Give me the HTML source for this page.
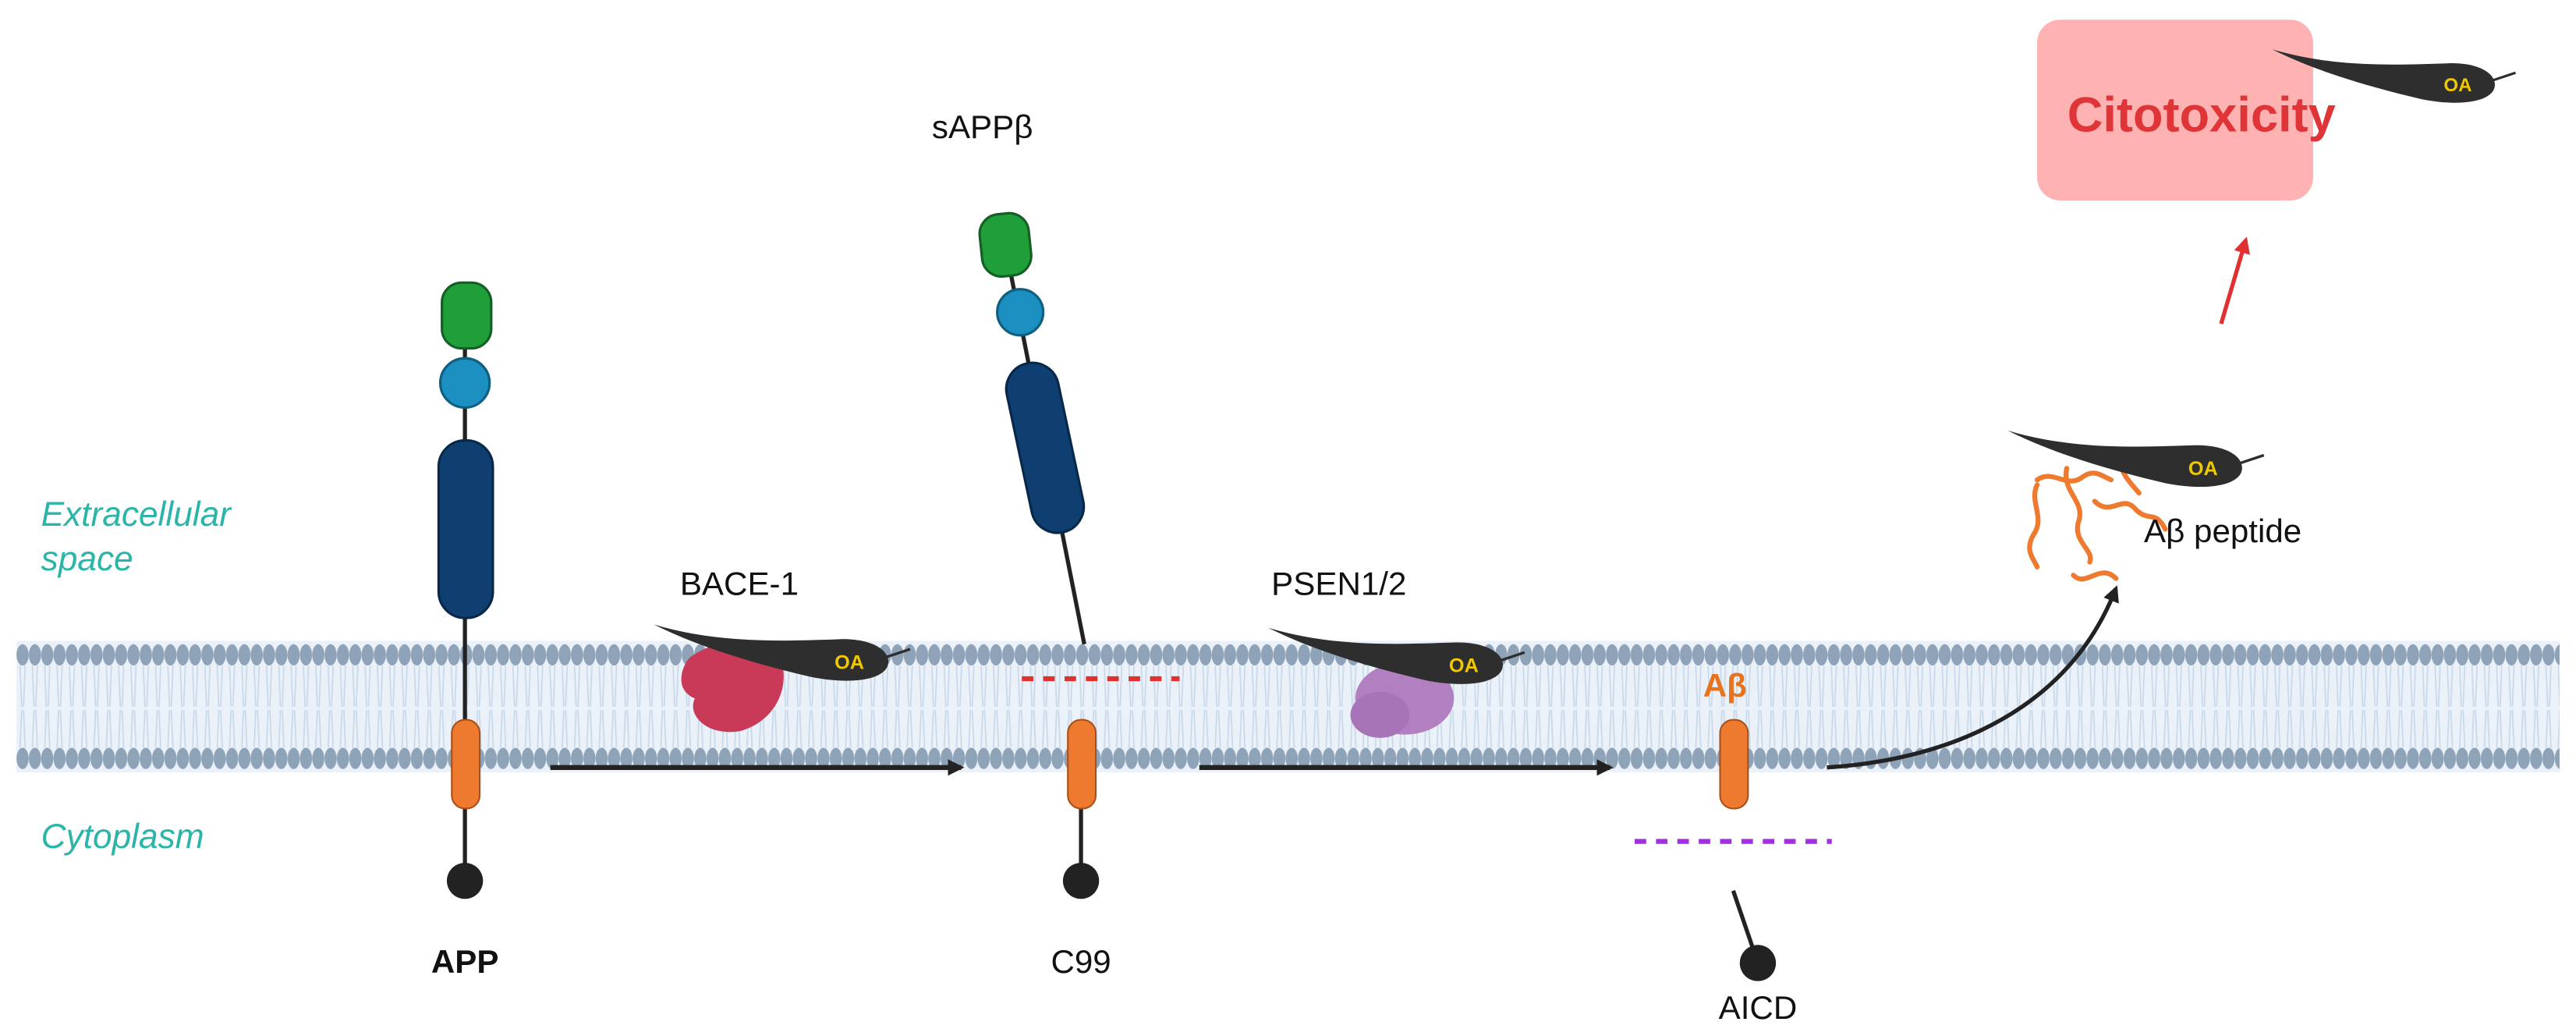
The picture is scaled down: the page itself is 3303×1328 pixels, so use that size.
<!DOCTYPE html>
<html><head><meta charset="utf-8"><style>
html,body{margin:0;padding:0;background:#fff}
svg{display:block}
text{font-family:"Liberation Sans","DejaVu Sans",sans-serif}
</style></head><body>
<svg width="3303" height="1328" viewBox="0 0 1568 630.4" preserveAspectRatio="none" xmlns="http://www.w3.org/2000/svg">
<defs>
<pattern id="heads" x="10" y="0" width="7.5" height="664" patternUnits="userSpaceOnUse">
<ellipse cx="3.75" cy="398.5" rx="3.7" ry="6.5" fill="#8fa3b8"/>
<ellipse cx="3.75" cy="461.5" rx="3.7" ry="6.5" fill="#8fa3b8"/>
<path d="M2.2,405 L3.2,430 M5.3,405 L4.3,430 M2.2,455 L3.2,432 M5.3,455 L4.3,432" stroke="#c7d8ea" stroke-width="0.8" fill="none"/>
</pattern>
<g id="leaf">
<path d="M0,0 C40,12 80,10 112,9 C134,8 146,17 142,26 C137,35 116,36 96,32 C62,24 28,14 0,0 Z" fill="#2e2e2e"/>
<path d="M141,20 L156,15" stroke="#2e2e2e" stroke-width="1.6"/>
<text x="110" y="27" font-size="12" fill="#f0c800" font-weight="bold">OA</text>
</g>
<marker id="ab" markerWidth="10" markerHeight="10" refX="8" refY="5" orient="auto" markerUnits="userSpaceOnUse"><path d="M0,0 L10,5 L0,10 Z" fill="#222"/></marker>
<marker id="ar" markerWidth="10" markerHeight="10" refX="8" refY="5" orient="auto" markerUnits="userSpaceOnUse"><path d="M0,0 L10,5 L0,10 Z" fill="#e03030"/></marker>
</defs>
<!-- membrane -->
<rect x="10" y="390" width="1548" height="80" fill="#eaf1f9"/>
<rect x="10" y="390" width="1548" height="80" fill="url(#heads)"/>

<!-- labels left -->
<text x="25" y="320" font-size="21" font-style="italic" fill="#2bb5a8">Extracellular</text>
<text x="25" y="347" font-size="21" font-style="italic" fill="#2bb5a8">space</text>
<text x="25" y="516" font-size="21" font-style="italic" fill="#2bb5a8">Cytoplasm</text>

<!-- APP -->
<line x1="283" y1="200" x2="283" y2="535" stroke="#222" stroke-width="2.5"/>
<rect x="269" y="172" width="30" height="40" rx="12" fill="#1f9e3a" stroke="#145f25" stroke-width="1.5"/>
<circle cx="283" cy="233" r="15" fill="#1a8fc0" stroke="#0f5f80" stroke-width="1.5"/>
<rect x="267" y="268" width="33" height="108" rx="16" fill="#0f3f70" stroke="#08284a" stroke-width="1.5"/>
<rect x="275" y="438" width="17" height="54" rx="8" fill="#ee7a30" stroke="#a8501a" stroke-width="1"/>
<circle cx="283" cy="536" r="11" fill="#222"/>
<text x="283" y="592" font-size="20" font-weight="bold" text-anchor="middle" fill="#111">APP</text>

<!-- arrow 1 -->
<line x1="335" y1="467" x2="585" y2="467" stroke="#222" stroke-width="3" marker-end="url(#ab)"/>

<!-- BACE-1 -->
<text x="450" y="362" font-size="20" text-anchor="middle" fill="#111">BACE-1</text>
<path d="M420,400 C440,385 470,390 475,400 C482,420 470,440 450,445 C430,448 418,435 423,425 C410,420 415,405 420,400 Z" fill="#c83a58"/>
<use href="#leaf" transform="translate(398,380)"/>

<!-- sAPPβ -->
<text x="598" y="84" font-size="20" text-anchor="middle" fill="#111">sAPPβ</text>
<line x1="612" y1="150" x2="660" y2="392" stroke="#222" stroke-width="2.5"/>
<rect x="597" y="130" width="30" height="38" rx="12" fill="#1f9e3a" stroke="#145f25" stroke-width="1.5" transform="rotate(-6 612 149)"/>
<circle cx="621" cy="190" r="14" fill="#1a8fc0" stroke="#0f5f80" stroke-width="1.5"/>
<rect x="620" y="220" width="32" height="105" rx="16" fill="#0f3f70" stroke="#08284a" stroke-width="1.5" transform="rotate(-12 636 272)"/>
<line x1="622" y1="413" x2="718" y2="413" stroke="#e03030" stroke-width="3" stroke-dasharray="7,6"/>

<!-- C99 -->
<line x1="658" y1="490" x2="658" y2="535" stroke="#222" stroke-width="2.5"/>
<rect x="650" y="438" width="17" height="54" rx="8" fill="#ee7a30" stroke="#a8501a" stroke-width="1"/>
<circle cx="658" cy="536" r="11" fill="#222"/>
<text x="658" y="592" font-size="20" text-anchor="middle" fill="#111">C99</text>

<!-- arrow 2 -->
<line x1="730" y1="467" x2="980" y2="467" stroke="#222" stroke-width="3" marker-end="url(#ab)"/>

<!-- PSEN -->
<text x="815" y="362" font-size="20" text-anchor="middle" fill="#111">PSEN1/2</text>
<ellipse cx="855" cy="425" rx="30" ry="22" fill="#b27fc0"/>
<ellipse cx="840" cy="435" rx="18" ry="14" fill="#a874b8"/>
<use href="#leaf" transform="translate(772,382)"/>

<!-- Aβ -->
<text x="1050" y="424" font-size="20" font-weight="bold" text-anchor="middle" fill="#e8731e">Aβ</text>
<rect x="1047" y="438" width="17" height="54" rx="8" fill="#ee7a30" stroke="#a8501a" stroke-width="1"/>
<line x1="995" y1="512" x2="1115" y2="512" stroke="#a030e0" stroke-width="3" stroke-dasharray="7,6"/>
<line x1="1055" y1="542" x2="1068" y2="580" stroke="#222" stroke-width="2.5"/>
<circle cx="1070" cy="586" r="11" fill="#222"/>
<text x="1070" y="620" font-size="20" text-anchor="middle" fill="#111">AICD</text>

<!-- curved arrow -->
<path d="M1112,467 C1190,462 1260,430 1288,358" fill="none" stroke="#222" stroke-width="2.5" marker-end="url(#ab)"/>

<!-- peptides -->
<g stroke="#ee7a30" stroke-width="3" fill="none" stroke-linecap="round">
<path d="M1240,295 C1235,305 1245,315 1238,325 C1232,335 1238,340 1240,345"/>
<path d="M1258,285 C1255,300 1270,305 1265,318 C1262,330 1275,335 1272,342"/>
<path d="M1275,305 C1285,315 1292,300 1300,310 C1308,318 1312,310 1318,322"/>
<path d="M1262,350 C1270,358 1278,342 1288,352"/>
<path d="M1240,292 C1250,285 1258,298 1268,290 C1275,285 1280,290 1285,292"/>
<path d="M1290,280 C1292,290 1298,295 1302,300"/>
</g>
<use href="#leaf" transform="translate(1222,262)"/>
<text x="1305" y="330" font-size="20" fill="#111">Aβ peptide</text>

<!-- red arrow -->
<line x1="1352" y1="197" x2="1367" y2="146" stroke="#e03030" stroke-width="2.5" marker-end="url(#ar)"/>

<!-- Citotoxicity box -->
<rect x="1240" y="12" width="168" height="110" rx="14" fill="#ffb2b2"/>
<text x="1340" y="80" font-size="30" font-weight="bold" text-anchor="middle" fill="#e03538">Citotoxicity</text>
<use href="#leaf" transform="translate(1383,30) scale(0.95)"/>
</svg>
</body></html>
